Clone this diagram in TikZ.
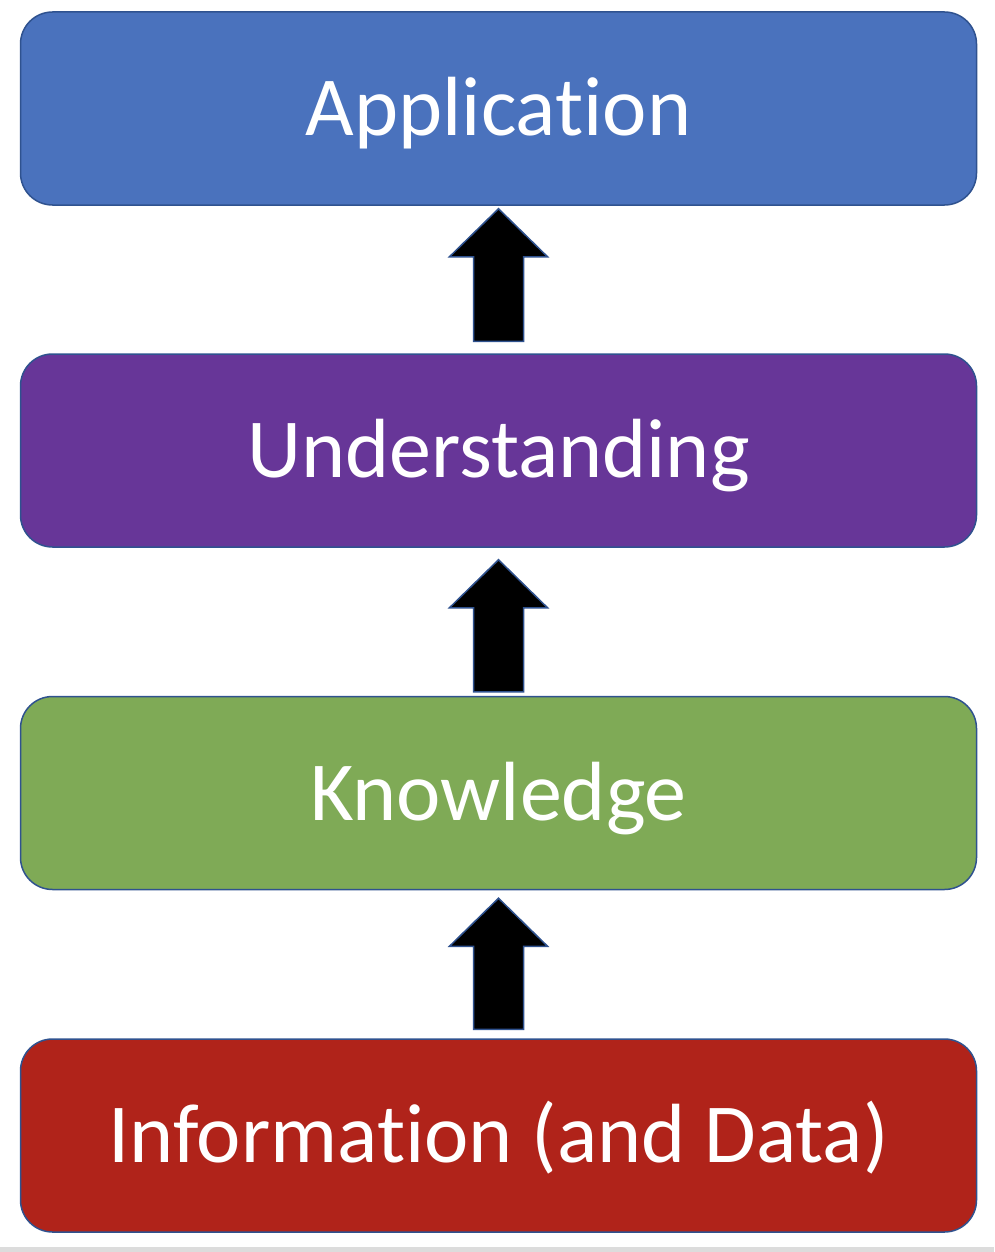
\documentclass[tikz,border=0pt]{standalone}
\usepackage{fontspec}
\setmainfont{Carlito}[Ligatures={NoCommon}]
\usetikzlibrary{calc}

\definecolor{edgeblue}{HTML}{2F528F}
\definecolor{appblue}{HTML}{4A72BD}
\definecolor{undpurple}{HTML}{673698}
\definecolor{knowgreen}{HTML}{7FAA56}
\definecolor{infored}{HTML}{B0231A}
\definecolor{floorgray}{HTML}{DCDCDC}

\tikzset{
  level/.style={draw=edgeblue, line width=1.5pt, rounded corners=32pt,
    minimum width=956pt, minimum height=193pt, inner sep=0pt,
    text=white, font=\fontsize{84}{96}\selectfont,
    text height=54pt, text depth=0pt},
  blockarrow/.style={draw=edgeblue, fill=black, line width=1.5pt, line join=miter}
}

% up-pointing block arrow between two levels
% #1 lower box, #2 upper box, #3 gap above the lower box, #4 gap below the upper box
\newcommand\blockup[4]{%
  \draw[blockarrow]
    ($(#1.north)+(-25,-#3)$) --
    ($(#2.south)+(-25,{#4+48})$) --
    ($(#2.south)+(-49,{#4+48})$) --
    ($(#2.south)+(0,#4)$) --
    ($(#2.south)+(49,{#4+48})$) --
    ($(#2.south)+(25,{#4+48})$) --
    ($(#1.north)+(25,-#3)$) -- cycle;}

\begin{document}
\begin{tikzpicture}[x=1pt, y=-1pt]
  \useasboundingbox (0,0) rectangle (994,1252);
  \fill[floorgray] (0,1247) rectangle (994,1252);

  \node[level, fill=appblue]   (app)  at (498.5,108.5)  {Application};
  \node[level, fill=undpurple] (und)  at (498.5,450.5)  {Understanding};
  \node[level, fill=knowgreen] (know) at (498.5,793)    {Knowledge};
  \node[level, fill=infored]   (info) at (498.5,1135.5) {Information (and Data)};

  \blockup{und}{app}{12}{3}
  \blockup{know}{und}{4}{12}
  \blockup{info}{know}{9}{8}
\end{tikzpicture}
\end{document}
